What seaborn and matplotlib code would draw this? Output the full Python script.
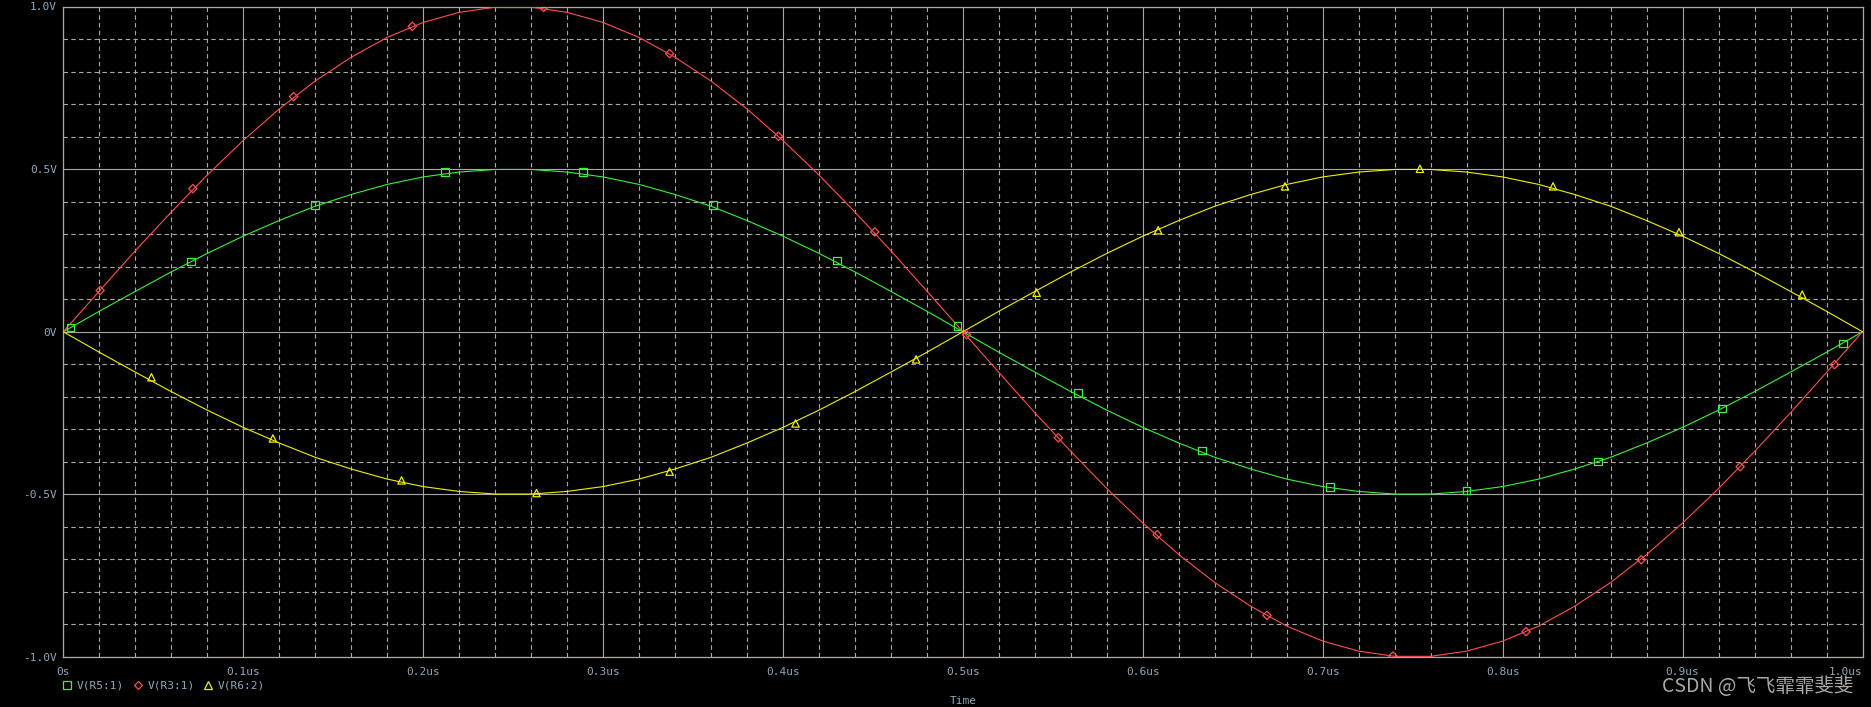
import matplotlib
matplotlib.use("Agg")
import matplotlib.pyplot as plt
from matplotlib.ticker import MultipleLocator, FixedLocator
from matplotlib.lines import Line2D
import seaborn as sns
import pandas as pd

# ---------------- data ----------------
time_us = [0.00, 0.02, 0.04, 0.06, 0.08, 0.10, 0.12, 0.14, 0.16, 0.18,
           0.20, 0.22, 0.24, 0.26, 0.28, 0.30, 0.32, 0.34, 0.36, 0.38,
           0.40, 0.42, 0.44, 0.46, 0.48, 0.50, 0.52, 0.54, 0.56, 0.58,
           0.60, 0.62, 0.64, 0.66, 0.68, 0.70, 0.72, 0.74, 0.76, 0.78,
           0.80, 0.82, 0.84, 0.86, 0.88, 0.90, 0.92, 0.94, 0.96, 0.98, 1.00]

v_r3_1 = [0.000, 0.125, 0.249, 0.368, 0.482, 0.588, 0.685, 0.771, 0.844, 0.905,
          0.951, 0.982, 0.998, 0.998, 0.982, 0.951, 0.905, 0.844, 0.771, 0.685,
          0.588, 0.482, 0.368, 0.249, 0.125, 0.000, -0.125, -0.249, -0.368, -0.482,
          -0.588, -0.685, -0.771, -0.844, -0.905, -0.951, -0.982, -0.998, -0.998, -0.982,
          -0.951, -0.905, -0.844, -0.771, -0.685, -0.588, -0.482, -0.368, -0.249, -0.125, 0.000]

v_r5_1 = [0.000, 0.063, 0.124, 0.184, 0.241, 0.294, 0.342, 0.386, 0.422, 0.453,
          0.476, 0.491, 0.499, 0.499, 0.491, 0.476, 0.453, 0.422, 0.386, 0.342,
          0.294, 0.241, 0.184, 0.124, 0.063, 0.000, -0.063, -0.124, -0.184, -0.241,
          -0.294, -0.342, -0.386, -0.422, -0.453, -0.476, -0.491, -0.499, -0.499, -0.491,
          -0.476, -0.453, -0.422, -0.386, -0.342, -0.294, -0.241, -0.184, -0.124, -0.063, 0.000]

v_r6_2 = [0.000, -0.063, -0.124, -0.184, -0.241, -0.294, -0.342, -0.386, -0.422, -0.453,
          -0.476, -0.491, -0.499, -0.499, -0.491, -0.476, -0.453, -0.422, -0.386, -0.342,
          -0.294, -0.241, -0.184, -0.124, -0.063, 0.000, 0.063, 0.124, 0.184, 0.241,
          0.294, 0.342, 0.386, 0.422, 0.453, 0.476, 0.491, 0.499, 0.499, 0.491,
          0.476, 0.453, 0.422, 0.386, 0.342, 0.294, 0.241, 0.184, 0.124, 0.063, 0.000]

# marker positions along each trace
r5_mk_t = [0.004, 0.071, 0.140, 0.212, 0.289, 0.361, 0.430, 0.497, 0.564, 0.633,
           0.704, 0.780, 0.853, 0.922, 0.989]
r5_mk_v = [0.013, 0.216, 0.389, 0.491, 0.491, 0.389, 0.219, 0.017, -0.188, -0.365,
           -0.477, -0.488, -0.399, -0.236, -0.036]

r3_mk_t = [0.0205, 0.072, 0.128, 0.194, 0.267, 0.337, 0.3975, 0.451, 0.502, 0.553,
           0.608, 0.669, 0.739, 0.813, 0.877, 0.932, 0.9845]
r3_mk_v = [0.127, 0.440, 0.723, 0.939, 0.997, 0.855, 0.601, 0.307, -0.009, -0.326,
           -0.624, -0.872, -0.997, -0.922, -0.701, -0.415, -0.101]

r6_mk_t = [0.049, 0.1165, 0.188, 0.263, 0.337, 0.407, 0.474, 0.541, 0.6085, 0.679,
           0.754, 0.828, 0.898, 0.9665]
r6_mk_v = [-0.140, -0.328, -0.457, -0.496, -0.430, -0.282, -0.085, 0.120, 0.312, 0.447,
           0.501, 0.447, 0.306, 0.114]

series_names = ["V(R5:1)", "V(R3:1)", "V(R6:2)"]
x_tick_vals = [0.0, 0.1, 0.2, 0.3, 0.4, 0.5, 0.6, 0.7, 0.8, 0.9, 1.0]
x_tick_labels = ["0s", "0.1us", "0.2us", "0.3us", "0.4us", "0.5us",
                 "0.6us", "0.7us", "0.8us", "0.9us", "1.0us"]
y_tick_vals = [-1.0, -0.5, 0.0, 0.5, 1.0]
y_tick_labels = ["-1.0V", "-0.5V", "0V", "0.5V", "1.0V"]

# ---------------- style ----------------
sns.set_style("dark", {"axes.facecolor": "black", "figure.facecolor": "black"})
plt.rcParams["font.family"] = ["DejaVu Sans Mono", "DejaVu Sans"]

GRID = "#a8a8a8"
TXT = "#90a8bc"
colors = {"V(R5:1)": "#3cf03c", "V(R3:1)": "#ff5050", "V(R6:2)": "#f0f000"}
markers = {"V(R5:1)": "s", "V(R3:1)": "D", "V(R6:2)": "^"}
msizes = {"V(R5:1)": 30, "V(R3:1)": 18, "V(R6:2)": 28}

W, H = 1871, 707
fig = plt.figure(figsize=(W / 100, H / 100), dpi=100, facecolor="black")
x0, x1, ytop, ybot = 63.3, 1862.5, 6.5, 657.0
ax = fig.add_axes([x0 / W, 1 - ybot / H, (x1 - x0) / W, (ybot - ytop) / H])
ax.set_facecolor("black")

df = pd.DataFrame({
    "t": time_us * 3,
    "v": v_r5_1 + v_r3_1 + v_r6_2,
    "trace": [series_names[0]] * len(time_us) + [series_names[1]] * len(time_us)
             + [series_names[2]] * len(time_us),
})
mk = pd.DataFrame({
    "t": r5_mk_t + r3_mk_t + r6_mk_t,
    "v": r5_mk_v + r3_mk_v + r6_mk_v,
    "trace": [series_names[0]] * len(r5_mk_t) + [series_names[1]] * len(r3_mk_t)
             + [series_names[2]] * len(r6_mk_t),
})

for name in series_names:
    sub = df[df["trace"] == name]
    sns.lineplot(data=sub, x="t", y="v", ax=ax, color=colors[name], lw=0.8,
                 estimator=None, sort=False, legend=False, zorder=3)
for name in series_names:
    sub = mk[mk["trace"] == name]
    sns.scatterplot(data=sub, x="t", y="v", ax=ax, marker=markers[name],
                    s=msizes[name], legend=False, zorder=4)
    coll = ax.collections[-1]
    coll.set_facecolor("none")
    coll.set_edgecolor(colors[name])
    coll.set_linewidth(0.9)

ax.set_xlim(0, 1.0)
ax.set_ylim(-1.0, 1.0)
ax.xaxis.set_major_locator(FixedLocator(x_tick_vals))
ax.set_xticklabels(x_tick_labels)
ax.xaxis.set_minor_locator(MultipleLocator(0.02))
ax.yaxis.set_major_locator(FixedLocator(y_tick_vals))
ax.set_yticklabels(y_tick_labels)
ax.yaxis.set_minor_locator(MultipleLocator(0.1))

ax.grid(which="major", color=GRID, lw=0.8, ls="-", zorder=1)
ax.grid(which="minor", color=GRID, lw=0.8, ls=(0, (4, 3)), zorder=1)
ax.set_axisbelow(True)

ax.tick_params(which="major", axis="x", direction="out", length=4, width=0.8,
               color=GRID, labelcolor=TXT, labelsize=8, pad=3.5)
ax.tick_params(which="major", axis="y", direction="out", length=3, width=0.8,
               color=GRID, labelcolor=TXT, labelsize=8, pad=1.5)
ax.tick_params(which="minor", length=0)
ax.get_xticklabels()[-1].set_ha("right")

for s in ax.spines.values():
    s.set_visible(True)
    s.set_color(GRID)
    s.set_linewidth(0.9)

ax.set_xlabel("Time", color=TXT, fontsize=8)
ax.set_ylabel("")
ax.xaxis.set_label_coords(0.5, -(700.7 - ybot) / (ybot - ytop))
ax.xaxis.label.set_va("center")

handles = [Line2D([], [], ls="none", marker=markers[n], markersize=5.5 if n != "V(R3:1)" else 4.5,
                  markerfacecolor="none", markeredgecolor=colors[n], markeredgewidth=0.9)
           for n in series_names]
leg = fig.legend(handles, series_names, loc="center left",
                 bbox_to_anchor=(62.5 / W, 1 - 686 / H), ncol=3, frameon=False,
                 handlelength=0.8, handletextpad=0.5, columnspacing=0.8,
                 borderpad=0, borderaxespad=0, fontsize=8)
for t in leg.get_texts():
    t.set_color(TXT)

fig.text(1853 / W, 1 - 687 / H, "CSDN @飞飞霏霏斐斐", ha="right", va="center",
         fontsize=14, color="#a8a8a8", family=["Noto Sans CJK SC", "DejaVu Sans"])

fig.savefig("out.png", dpi=100, facecolor="black")
